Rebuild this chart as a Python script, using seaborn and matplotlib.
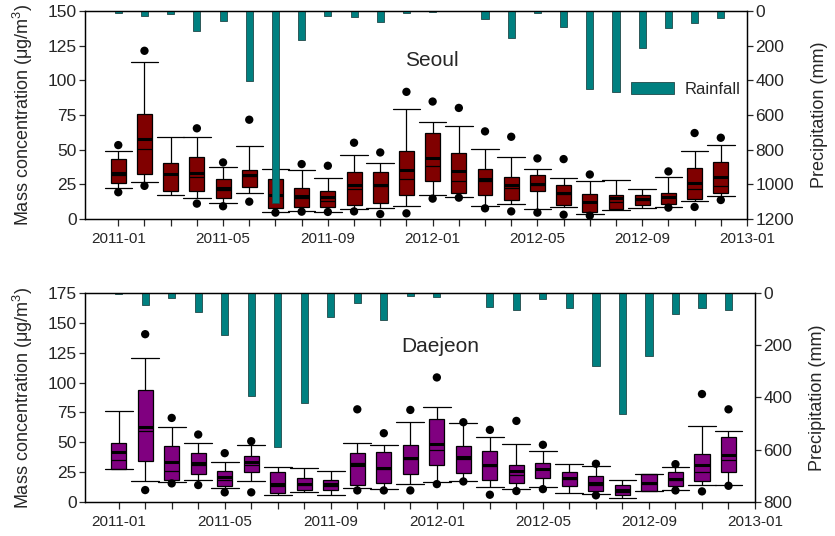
import numpy as np
import pandas as pd
import matplotlib
matplotlib.use("Agg")
import matplotlib.pyplot as plt
import seaborn as sns

# ---------------- data ----------------
month_idx = list(range(24))
xtick_pos = [0, 4, 8, 12, 16, 20, 24]
xtick_labels = ["2011-01", "2011-05", "2011-09", "2012-01", "2012-05", "2012-09", "2013-01"]

# Seoul box statistics
seoul_p10 = [22.2, 26.5, 17.4, 15.4, 11.3, 18.6, 5.1, 5.8, 4.8, 7.5, 8.2, 9.2,
             17.6, 16.2, 9.4, 10.9, 7.2, 8.4, 3.6, 6.5, 8.0, 8.9, 13.0, 16.9]
seoul_q1 = [25.8, 32.1, 20.3, 20.5, 15.2, 22.9, 8.0, 8.4, 8.4, 9.9, 11.6, 17.6,
            27.3, 18.8, 17.1, 13.5, 20.5, 10.1, 5.3, 7.2, 10.4, 11.1, 14.2, 18.6]
seoul_med = [31.6, 50.4, 32.3, 30.2, 21.0, 31.1, 17.6, 15.2, 12.8, 21.9, 24.1, 29.2,
             38.1, 27.5, 27.5, 22.2, 24.8, 18.1, 12.1, 12.3, 14.0, 15.7, 21.7, 23.6]
seoul_mean = [33.3, 57.6, 32.8, 33.3, 22.4, 31.8, 17.6, 16.9, 15.9, 24.6, 24.6, 35.7,
              44.1, 34.7, 28.5, 24.6, 25.1, 18.6, 12.3, 15.2, 14.2, 16.2, 26.0, 30.2]
seoul_q3 = [43.2, 75.5, 40.5, 44.6, 28.5, 35.2, 28.9, 22.4, 20.5, 33.8, 33.8, 49.0,
            62.0, 47.8, 36.2, 30.4, 31.4, 24.8, 18.3, 17.6, 17.6, 18.8, 36.9, 41.2]
seoul_p90 = [48.7, 113.4, 59.1, 58.9, 37.4, 52.6, 36.2, 35.0, 29.7, 45.8, 40.3, 79.4,
             69.7, 67.3, 50.2, 44.6, 36.2, 29.4, 27.5, 28.0, 21.7, 30.6, 49.4, 53.3]
seoul_p5 = [19.3, 23.9, np.nan, 11.1, 9.2, 12.5, 4.6, 5.3, 5.1, 5.5, 3.6, 4.1,
            14.7, 15.4, 7.7, 5.5, 4.6, 3.1, 2.4, np.nan, np.nan, 8.2, 8.7, 13.7]
seoul_p95 = [53.3, 121.3, np.nan, 65.4, 40.8, 71.6, np.nan, 39.6, 38.4, 55.0, 48.0, 91.7,
             84.7, 80.1, 63.2, 59.3, 43.7, 43.2, 32.1, np.nan, np.nan, 34.3, 62.0, 58.6]
seoul_rain = [13, 31, 17, 113, 56, 406, 1110, 169, 27, 37, 62, 10,
              8, 2, 48, 158, 13, 94, 450, 465, 215, 100, 67, 42]

# Daejeon box statistics
daejeon_p10 = [27.5, 17.8, 16.7, 18.1, 11.4, 17.8, 5.6, 8.3, 5.6, 11.7, 10.8, 15.3,
               16.7, 17.2, 12.8, 11.1, 12.2, 7.2, 6.4, 3.6, 9.2, 10.3, 13.9, 14.5]
daejeon_q1 = [27.8, 34.5, 18.1, 23.6, 13.6, 25.0, 7.5, 9.7, 9.7, 14.5, 15.9, 23.6,
              31.2, 24.2, 18.1, 15.9, 20.0, 13.6, 9.5, 5.6, 9.2, 13.1, 17.5, 25.3]
daejeon_med = [34.8, 59.5, 26.2, 30.6, 18.1, 31.2, 13.6, 13.9, 13.1, 32.5, 27.8, 35.9,
               43.7, 36.4, 29.8, 22.3, 27.5, 19.2, 14.5, 8.1, 15.3, 18.6, 24.8, 35.3]
daejeon_mean = [41.5, 63.2, 33.9, 32.3, 20.6, 33.1, 15.3, 15.3, 15.0, 31.2, 28.1, 37.0,
                48.7, 37.6, 30.6, 25.6, 27.8, 19.8, 15.9, 9.7, 15.9, 19.2, 30.6, 39.5]
daejeon_q3 = [49.2, 93.8, 47.0, 40.9, 25.6, 38.9, 25.0, 20.3, 18.6, 40.9, 41.5, 47.9,
              69.3, 46.5, 42.3, 31.2, 32.5, 24.8, 21.4, 14.5, 23.6, 24.8, 40.3, 54.8]
daejeon_p90 = [76.2, 120.7, 63.2, 49.8, 33.9, 47.9, 28.9, 28.1, 25.9, 49.2, 47.9, 67.3,
               79.8, 65.9, 54.2, 48.4, 42.3, 31.7, 30.3, 18.1, 23.6, 28.9, 63.7, 59.8]
daejeon_p5 = [np.nan, 10.0, 15.6, 14.2, 8.1, 8.1, np.nan, np.nan, np.nan, 9.7, 9.7, 9.7,
              15.0, 17.2, 6.1, 9.2, 10.8, np.nan, 5.6, np.nan, np.nan, 9.7, 8.9, 13.6]
daejeon_p95 = [np.nan, 140.5, 70.4, 56.5, 40.9, 50.9, np.nan, np.nan, np.nan, 77.6, 57.6, 77.1,
               104.3, 66.8, 60.4, 67.9, 47.9, np.nan, 32.0, np.nan, np.nan, 31.7, 90.4, 77.6]
daejeon_rain = [3, 45, 19, 72, 162, 393, 588, 420, 92, 37, 103, 11,
                15, 0, 53, 66, 23, 56, 279, 464, 242, 81, 56, 64]

# ---------------- style ----------------
sns.set_theme(style="ticks")
plt.rcParams["font.family"] = ["Liberation Sans", "DejaVu Sans"]
plt.rcParams["mathtext.fontset"] = "custom"
plt.rcParams["mathtext.rm"] = "Liberation Sans"
plt.rcParams["mathtext.it"] = "Liberation Sans:italic"
plt.rcParams["axes.linewidth"] = 0.9

BOX_W = 0.57
CAP_W = 1.05
RAIN_COLOR = "#008080"

fig = plt.figure(figsize=(8.35, 5.36), dpi=100)


def panel(rect, p10, q1, med, mean, q3, p90, p5, p95, rain, fill, ylim, yticks,
          rlim, rticks, title, title_xy, legend=False):
    ax = fig.add_axes(rect)
    rows = []
    for m, a, b, c, d, e in zip(month_idx, p10, q1, med, q3, p90):
        for v in (a, b, c, d, e):
            rows.append({"month": m, "value": v})
    df = pd.DataFrame(rows)
    sns.boxplot(data=df, x="month", y="value", native_scale=True, width=BOX_W,
                whis=(0, 100), color=fill, saturation=1, linecolor="black",
                linewidth=0.9, fliersize=0, capwidths=CAP_W,
                medianprops={"color": "black", "linewidth": 0.9},
                ax=ax)
    # mean lines (thick)
    mx = np.array(month_idx, dtype=float)
    ax.hlines(mean, mx - BOX_W / 2, mx + BOX_W / 2, colors="black", linewidth=2.2, zorder=5)
    # 5th / 95th percentile dots
    dots = pd.DataFrame({"month": month_idx + month_idx, "value": list(p5) + list(p95)})
    sns.scatterplot(data=dots, x="month", y="value", color="black", s=36,
                    edgecolor="none", legend=False, ax=ax, zorder=6)

    ax.set_ylim(*ylim)
    ax.set_yticks(yticks)
    ax.set_ylabel("Mass concentration (μg/m$^{3}$)", fontsize=13, labelpad=9)
    ax.set_xlabel("")

    ax2 = ax.twinx()
    rdf = pd.DataFrame({"month": month_idx, "rain": rain})
    sns.barplot(data=rdf, x="month", y="rain", native_scale=True, orient="x",
                width=0.27, color=RAIN_COLOR, saturation=1, edgecolor="#204848",
                linewidth=0.6, errorbar=None, label="Rainfall", ax=ax2)
    ax2.set_ylim(*rlim)
    ax2.set_yticks(rticks)
    ax2.set_ylabel("Precipitation (mm)", fontsize=13, labelpad=12)
    ax2.set_xlabel("")

    ax.set_xlim(-1.27, 24)
    ax.set_xticks(xtick_pos)
    ax.set_xticklabels(xtick_labels, fontsize=11)
    ax.set_xticks(month_idx + [24], minor=True)
    ax.tick_params(axis="x", which="both", direction="out", length=5, width=0.9, pad=4)
    ax.tick_params(axis="y", direction="out", length=4, width=0.9, labelsize=12.5, pad=2)
    ax2.tick_params(axis="y", direction="out", length=4, width=0.9, labelsize=12.5, pad=2)
    for a in (ax, ax2):
        for s in a.spines.values():
            s.set_visible(True)
            s.set_color("black")
            s.set_linewidth(0.9)

    ax.text(title_xy[0], title_xy[1], title, transform=ax.transAxes, fontsize=15,
            ha="center", va="center")
    if legend:
        h, l = ax2.get_legend_handles_labels()
        ax2.legend(h, l, loc="center left", bbox_to_anchor=(0.825, 0.623),
                   frameon=False, fontsize=12, handlelength=2.6, handleheight=0.7,
                   handletextpad=0.6, borderaxespad=0, borderpad=0)
    else:
        if ax2.get_legend() is not None:
            ax2.get_legend().remove()
    return ax, ax2


panel([0.1018, 0.5914, 0.7928, 0.3881], seoul_p10, seoul_q1, seoul_med, seoul_mean,
      seoul_q3, seoul_p90, seoul_p5, seoul_p95, seoul_rain, "#800000",
      (0, 150), [0, 25, 50, 75, 100, 125, 150], (1200, 0),
      [0, 200, 400, 600, 800, 1000, 1200], "Seoul", (0.524, 0.76), legend=True)

panel([0.1018, 0.0634, 0.8024, 0.39], daejeon_p10, daejeon_q1, daejeon_med, daejeon_mean,
      daejeon_q3, daejeon_p90, daejeon_p5, daejeon_p95, daejeon_rain, "#800080",
      (0, 175), [0, 25, 50, 75, 100, 125, 150, 175], (800, 0),
      [0, 200, 400, 600, 800], "Daejeon", (0.53, 0.742))

fig.savefig("out.png", dpi=100)
